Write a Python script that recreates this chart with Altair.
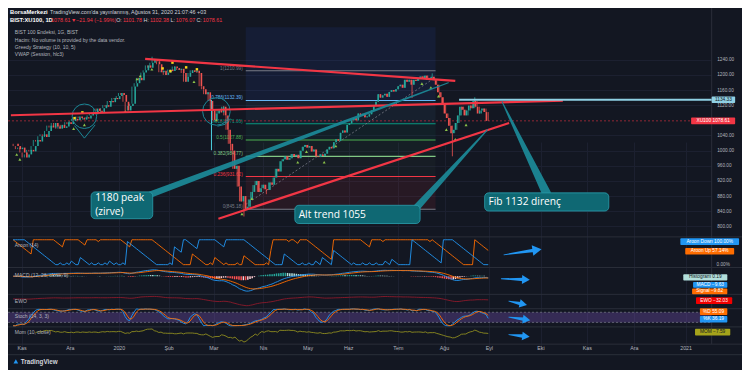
import math
import altair as alt
import numpy as np
import pandas as pd

# ---------------- data ----------------
first_index = -4          # trading-day index of the first candle (0 = 1 Nov 2019)
closes = [
    1012, 1004, 1008, 995, 982, 990, 1002, 998, 1012, 1028,
    1024, 1038, 1043, 1036, 1052, 1066, 1061, 1073, 1064, 1058,
    1068, 1060, 1064, 1075, 1070, 1078, 1084, 1080, 1090, 1086,
    1082, 1088, 1085, 1093, 1100, 1096, 1111, 1105, 1101, 1112,
    1120, 1116, 1131, 1128, 1139, 1136, 1144, 1152, 1147, 1129,
    1106, 1118, 1124, 1169, 1178, 1192, 1186, 1206, 1212, 1225,
    1219, 1232, 1242, 1236, 1228, 1207, 1211, 1200, 1206, 1214,
    1210, 1222, 1218, 1213, 1216, 1205, 1182, 1195, 1205, 1212,
    1208, 1211, 1205, 1170, 1162, 1149, 1154, 1131, 1106, 1081,
    1098, 1106, 1101, 1116, 1093, 1055, 1018, 1000, 952, 960,
    905, 866, 880, 846, 852, 871, 891, 909, 920, 891,
    901, 910, 898, 896, 916, 910, 929, 952, 945, 972,
    977, 985, 976, 980, 991, 985, 989, 980, 1000, 1010,
    1015, 1008, 1012, 998, 1003, 985, 983, 990, 986, 992,
    1003, 1010, 1006, 1022, 1030, 1026, 1047, 1053, 1048, 1068,
    1072, 1080, 1086, 1080, 1098, 1092, 1097, 1088, 1090, 1096,
    1106, 1118, 1129, 1149, 1140, 1146, 1150, 1142, 1155, 1160,
    1156, 1162, 1170, 1174, 1166, 1187, 1182, 1187, 1174, 1187,
    1184, 1192, 1196, 1190, 1198, 1187, 1192, 1195, 1186, 1174,
    1154, 1141, 1124, 1098, 1086, 1066, 1046, 1055, 1073, 1093,
    1116, 1108, 1093, 1106, 1119, 1112, 1131, 1116, 1098, 1106,
    1111, 1101.78, 1078.61,
]
first_open = 1018
low_spike_i = [99, 192, 174, 86, 46, 109]
low_spike_p = [826, 985, 1139, 1075, 1100, 885]
high_spike_i = [58, 202, 183, 90]
high_spike_p = [1248, 1141, 1204, 1118]

month_labels = ["Kas", "Ara", "2020", "Şub", "Mar", "Nis", "May", "Haz", "Tem",
                "Ağu", "Eyl", "Eki", "Kas", "Ara", "2021"]
month_index = [0, 21.5, 43.4, 65.6, 85.6, 107.7, 127.6, 145.7, 167.9,
               188.5, 208.5, 231.5, 252.2, 273.2, 296.3]
price_ticks = [800, 840, 880, 920, 960, 1000, 1040, 1120, 1160, 1200, 1240]

fib_ratio = ["0", "0.236", "0.382", "0.5", "0.618", "0.786", "1"]
fib_price = [845.18, 931.62, 984.77, 1027.88, 1071.06, 1132.39, 1210.99]
fib_color = ["#787b86", "#f23645", "#81c784", "#4caf50", "#089981", "#64b5f6", "#787b86"]
fib_start, fib_end = 99.8, 184.5

trend_id = [1, 1, 2, 2, 3, 3]
trend_i = [54.9, 193.3, -5.0, 241.3, 87.6, 217.3]
trend_p = [1242.5, 1184.4, 1093.4, 1132.0, 820.3, 1073.1]

resist_price = 1134.33
last_price = 1078.61

callout_i0 = [30.8, 121.7, 206.4]
callout_i1 = [58.3, 177.6, 261.8]
callout_p0 = [820.3, 807.6, 840.5]
callout_p1 = [891.1, 855.7, 888.5]
callout_text = ["1180 peak", "(zirve)", "Alt trend 1055", "Fib 1132 direnç"]
callout_text_i = [32.6, 32.6, 123.4, 208.1]
callout_text_p = [875.0, 838.0, 830.4, 863.3]
pointer_id = ["a", "a", "b", "b", "c", "c"]
pointer_i = [57.0, 190.2, 176.2, 207.7, 233.9, 214.2]
pointer_p = [883.5, 1179.3, 850.6, 1055.4, 888.5, 1128.7]
pointer_w = [6.5, 1.0, 7.0, 1.0, 9.0, 1.0]

buy_i = [-2.4, -1.0, 23.0, 27.8, 46.1, 51.3, 52.7, 57.9, 76.7, 86.7, 98.1, 102.5,
         123.0, 126.9, 134.8, 140.0, 178.4, 182.4, 185.8, 189.3, 193.3, 198.1]
buy_p = [989.7, 977, 1058, 1068, 1103.5, 1189, 1197, 1214.7, 1181.8, 1080.7, 833, 873.4,
         969.5, 997.3, 969.5, 1012.4, 1176.8, 1166.7, 1143.9, 1055.4, 1030, 1068]
sell_i = [23.4, 26.9, 62.7, 66.2, 67.1, 73.2, 78.0]
sell_p = [1085.8, 1101, 1217, 1209.7, 1232.4, 1219.8, 1214.7]

circle_i = [27.8, 86.7]
circle_p = [1090.8, 1103.5]
circle_size = [600, 760]
tail_id = [1, 1, 1, 2, 2, 2]
tail_i = [23.4, 27.8, 32.6, 87.2, 90.6, 92.8]
tail_p = [1066, 1033, 1068, 1064.5, 1069.6, 1084.8]

# ---------------- layout helpers ----------------
BG = "#131722"
UP, DN = "#26a69a", "#ef5350"
RED = "#f23645"
GRID = "#1c2030"
SEP = "#2a2e39"
TXT = "#b2b5be"
TEAL = "#1b8796"
FONT = "Liberation Sans"

SX, SY = 734 / 750, 362 / 378
W, H = 719 * SX, 362
X0, X1 = -6.29, 307.7


def fx(x):
    return x * SX


def fy(y):
    return y * SY


xs = alt.Scale(domain=[X0, X1], range=[0, W], nice=False, zero=False)


def ysc(dom, bottom, top):
    return alt.Scale(domain=list(dom), range=[fy(bottom), fy(top)], nice=False, zero=False)


MAIN = ysc([774.8, 1326.0], 238, 20)


def X(f="i"):
    return alt.X(f"{f}:Q", scale=xs, axis=None)


def Y(f, sc):
    return alt.Y(f"{f}:Q", scale=sc, axis=None)


PX = alt.Scale(domain=[0, 1000], range=[0, 1000])  # identity pixel scale for layout bits


def PXX(f):
    return alt.X(f"{f}:Q", scale=PX, axis=None)


def PXY(f):
    return alt.Y(f"{f}:Q", scale=PX, axis=None)


# ---------------- candles ----------------
n = len(closes)
idx = list(range(first_index, first_index + n))
opens = [first_open] + closes[:-1]
cdf = pd.DataFrame({"i": idx, "o": opens, "c": closes})
cdf["hi"] = cdf[["o", "c"]].max(axis=1)
cdf["lo"] = cdf[["o", "c"]].min(axis=1)
for a, b in zip(low_spike_i, low_spike_p):
    cdf.loc[cdf.i == a, "lo"] = b
for a, b in zip(high_spike_i, high_spike_p):
    cdf.loc[cdf.i == a, "hi"] = b
cdf["col"] = np.where(cdf.c >= cdf.o, UP, DN)

# ---------------- indicators computed from the candles ----------------
c, h, l = cdf["c"], cdf["hi"], cdf["lo"]
N = 14
aup = h.rolling(N + 1, min_periods=1).apply(lambda a: 100.0 * (N - np.argmax(a[::-1])) / N, raw=True)
adn = l.rolling(N + 1, min_periods=1).apply(lambda a: 100.0 * (N - np.argmin(a[::-1])) / N, raw=True)
macd = c.ewm(span=12, adjust=False).mean() - c.ewm(span=26, adjust=False).mean()
sig = macd.ewm(span=9, adjust=False).mean()
hist = macd - sig
prev = hist.shift(1).fillna(0)
hcol = np.where(hist >= 0, np.where(hist >= prev, "#26a69a", "#b2dfdb"),
                np.where(hist < prev, "#ff5252", "#ffcdd2"))
ewo = c.rolling(5, min_periods=1).mean() - c.rolling(35, min_periods=1).mean()
ll = l.rolling(14, min_periods=1).min()
hh = h.rolling(14, min_periods=1).max()
raw = (100 * (c - ll) / (hh - ll).replace(0, np.nan)).fillna(50)
kk = raw.rolling(3, min_periods=1).mean()
dd = kk.rolling(3, min_periods=1).mean()
mom = c - c.shift(10)

aroon_df = pd.concat([
    pd.DataFrame({"i": idx, "v": aup, "col": "#ff6d00", "s": "up"}),
    pd.DataFrame({"i": idx, "v": adn, "col": "#2196f3", "s": "dn"})])
macd_df = pd.concat([
    pd.DataFrame({"i": idx, "v": macd, "col": "#2196f3", "s": "m"}),
    pd.DataFrame({"i": idx, "v": sig, "col": "#ff6d00", "s": "s"})])
hist_df = pd.DataFrame({"i": idx, "v": hist, "col": hcol})
stoch_df = pd.concat([
    pd.DataFrame({"i": idx, "v": kk, "col": "#2196f3", "s": "k"}),
    pd.DataFrame({"i": idx, "v": dd, "col": "#ff6d00", "s": "d"})])
ewo_df = pd.DataFrame({"i": idx, "v": ewo})
mom_df = pd.DataFrame({"i": idx, "v": mom}).dropna()

mlo = min(macd.min(), sig.min(), hist.min())
mhi = max(macd.max(), sig.max(), hist.max())
MACD_S = ysc([mlo - 2, mhi + 2], 296, 273)
AROON_S = ysc([0, 100], 268, 242)
EWO_S = ysc([ewo.min() - 5, ewo.max() + 5], 311, 301)
STOCH_S = ysc([0, 100], 331.8, 314.2)
MOM_S = ysc([mom.min() - 5, mom.max() + 5], 349, 335)

layers = []

# ---------------- fibonacci background ----------------
band_lo = [fib_price[6], fib_price[5], fib_price[4], fib_price[3], fib_price[2], fib_price[1], fib_price[0]]
band_hi = [1326.0, fib_price[6], fib_price[5], fib_price[4], fib_price[3], fib_price[2], fib_price[1]]
band_col = ["#2962ff", "#2962ff", "#64b5f6", "#089981", "#4caf50", "#81c784", "#f23645"]
band_op = [0.09, 0.09, 0.06, 0.07, 0.06, 0.035, 0.09]
bdf = pd.DataFrame({"x0": fib_start, "x1": fib_end, "lo": band_lo, "hi": band_hi,
                    "col": band_col, "op": band_op})
layers.append(alt.Chart(bdf).mark_rect().encode(
    x=X("x0"), x2="x1:Q", y=Y("lo", MAIN), y2="hi:Q",
    color=alt.Color("col:N", scale=None), opacity=alt.Opacity("op:Q", scale=None)))

# stochastic band
sb = pd.DataFrame({"a": [80], "b": [20], "x0": [X0], "x1": [X1]})
layers.append(alt.Chart(sb).mark_rect(color="#7e57c2", opacity=0.32).encode(
    x=X("x0"), x2="x1:Q", y=Y("a", STOCH_S), y2="b:Q"))
layers.append(alt.Chart(pd.DataFrame({"v": [80, 20]})).mark_rule(
    color="#787b86", strokeDash=[2, 2], strokeWidth=0.7).encode(
    y=Y("v", STOCH_S), x=alt.value(0), x2=alt.value(W)))

# pane separators
seps = pd.DataFrame({"y": [fy(v) for v in [239, 271, 299, 314, 333, 351, 362]]})
layers.append(alt.Chart(seps).mark_rule(color=SEP, strokeWidth=1).encode(
    y=PXY("y"), x=alt.value(0), x2=alt.value(734)))
layers.append(alt.Chart(pd.DataFrame({"a": [0]})).mark_rule(color=SEP, strokeWidth=1).encode(
    x=alt.value(W), y=alt.value(0), y2=alt.value(fy(351))))

# fib lines + labels
fdf = pd.DataFrame({"r": fib_ratio, "p": fib_price, "col": fib_color})
fdf["x0"], fdf["x1"] = fib_start, fib_end
fdf["lab"] = [f"{r}({p:.2f})" for r, p in zip(fib_ratio, fib_price)]
layers.append(alt.Chart(fdf).mark_rule(strokeWidth=1.1).encode(
    x=X("x0"), x2="x1:Q", y=Y("p", MAIN), color=alt.Color("col:N", scale=None)))
layers.append(alt.Chart(fdf).mark_text(align="right", baseline="bottom", dx=-3, dy=0,
                                       fontSize=4.7, font=FONT).encode(
    x=X("x0"), y=Y("p", MAIN), text="lab:N", color=alt.Color("col:N", scale=None)))
layers.append(alt.Chart(pd.DataFrame({"i": [fib_start, 182.8], "p": [858, 1187]})).mark_line(
    color="#787b86", strokeDash=[2, 2], strokeWidth=0.8).encode(x=X(), y=Y("p", MAIN)))
layers.append(alt.Chart(pd.DataFrame({"i": [84.5], "a": [1134], "b": [1001]})).mark_rule(
    color="#4dd0e1", strokeWidth=1).encode(x=X(), y=Y("a", MAIN), y2="b:Q"))

# last price dashed line
layers.append(alt.Chart(pd.DataFrame({"p": [last_price]})).mark_rule(
    color=RED, strokeDash=[2, 2], strokeWidth=0.8, opacity=0.7).encode(
    y=Y("p", MAIN), x=alt.value(0), x2=alt.value(W)))

# candles (this layer carries the grid and the price axis)
layers.append(alt.Chart(cdf).mark_rule(strokeWidth=0.8).encode(
    x=alt.X("i:Q", scale=xs, axis=alt.Axis(values=month_index, grid=True, gridColor=GRID,
                                           labels=False, ticks=False, domain=False, title=None)),
    y=alt.Y("lo:Q", scale=MAIN, axis=alt.Axis(orient="right", values=price_ticks, format=".2f",
                                              grid=True, gridColor=GRID, labelColor=TXT,
                                              labelFontSize=4.7, labelFont=FONT, ticks=False,
                                              domain=False, title=None, labelPadding=5)),
    y2="hi:Q", color=alt.Color("col:N", scale=None)))
layers.append(alt.Chart(cdf).mark_bar(size=1.6).encode(
    x=X(), y=Y("o", MAIN), y2="c:Q", color=alt.Color("col:N", scale=None)))

# strategy markers
layers.append(alt.Chart(pd.DataFrame({"i": buy_i, "p": buy_p})).mark_point(
    shape="triangle-up", filled=True, color="#8bc34a", size=9, opacity=1).encode(x=X(), y=Y("p", MAIN)))
layers.append(alt.Chart(pd.DataFrame({"i": sell_i, "p": sell_p})).mark_point(
    shape="square", filled=True, color="#f9d71c", size=6, opacity=1).encode(x=X(), y=Y("p", MAIN)))

# hand drawn circles
layers.append(alt.Chart(pd.DataFrame({"i": circle_i, "p": circle_p, "s": circle_size})).mark_point(
    shape="circle", filled=False, color=TEAL, strokeWidth=1, opacity=1).encode(
    x=X(), y=Y("p", MAIN), size=alt.Size("s:Q", scale=None)))
layers.append(alt.Chart(pd.DataFrame({"g": tail_id, "i": tail_i, "p": tail_p})).mark_line(
    color=TEAL, strokeWidth=1).encode(x=X(), y=Y("p", MAIN), detail="g:N"))

# trend lines
layers.append(alt.Chart(pd.DataFrame({"g": trend_id, "i": trend_i, "p": trend_p})).mark_line(
    color=RED, strokeWidth=2.2).encode(x=X(), y=Y("p", MAIN), detail="g:N"))
layers.append(alt.Chart(pd.DataFrame({"a": [195.0], "b": [X1], "p": [resist_price]})).mark_rule(
    color="#8fd0e4", strokeWidth=2).encode(x=X("a"), x2="b:Q", y=Y("p", MAIN)))

# callout pointers, boxes, texts
layers.append(alt.Chart(pd.DataFrame({"g": pointer_id, "i": pointer_i, "p": pointer_p, "w": pointer_w})
                        ).mark_trail(color=TEAL, opacity=0.95).encode(
    x=X(), y=Y("p", MAIN), size=alt.Size("w:Q", scale=None), detail="g:N"))
layers.append(alt.Chart(pd.DataFrame({"a": callout_i0, "b": callout_i1, "lo": callout_p0, "hi": callout_p1})
                        ).mark_rect(fill="#0f6873", stroke="#2b9fae", strokeWidth=0.8, cornerRadius=4).encode(
    x=X("a"), x2="b:Q", y=Y("lo", MAIN), y2="hi:Q"))
layers.append(alt.Chart(pd.DataFrame({"i": callout_text_i, "p": callout_text_p, "t": callout_text})
                        ).mark_text(align="left", baseline="middle", color="#ffffff",
                                    fontSize=10.2, font="Open Sans").encode(
    x=X(), y=Y("p", MAIN), text="t:N"))

# indicator panes
layers.append(alt.Chart(aroon_df).mark_line(strokeWidth=0.9).encode(
    x=X(), y=Y("v", AROON_S), color=alt.Color("col:N", scale=None), detail="s:N"))
layers.append(alt.Chart(hist_df).mark_bar(size=1.5).encode(
    x=X(), y=Y("v", MACD_S), y2=alt.datum(0), color=alt.Color("col:N", scale=None)))
layers.append(alt.Chart(macd_df).mark_line(strokeWidth=0.9).encode(
    x=X(), y=Y("v", MACD_S), color=alt.Color("col:N", scale=None), detail="s:N"))
layers.append(alt.Chart(ewo_df).mark_line(strokeWidth=0.9, color="#8b1a2a").encode(
    x=X(), y=Y("v", EWO_S)))
layers.append(alt.Chart(stoch_df).mark_line(strokeWidth=0.9).encode(
    x=X(), y=Y("v", STOCH_S), color=alt.Color("col:N", scale=None), detail="s:N"))
layers.append(alt.Chart(mom_df).mark_line(strokeWidth=0.9, color="#8f8c1f").encode(
    x=X(), y=Y("v", MOM_S)))

# blue arrows (reference pixel positions)
arrow_tail = [(506.7, 257.7), (504, 282.7), (511.7, 306), (511.7, 322.7), (511.7, 341)]
arrow_tip = [(544, 252), (532.7, 283.7), (530, 310), (533.3, 326), (532.7, 343.3)]
arrow_head = [110, 80, 75, 75, 75]
sh_rows, hd_rows = [], []
for k, ((tx, ty), (px_, py_), hs) in enumerate(zip(arrow_tail, arrow_tip, arrow_head)):
    dx, dy = px_ - tx, py_ - ty
    L = math.hypot(dx, dy)
    ux, uy = dx / L, dy / L
    sh_rows.append({"g": k, "x": fx(tx), "y": fy(ty), "w": 0.8})
    sh_rows.append({"g": k, "x": fx(px_ - ux * 6), "y": fy(py_ - uy * 6), "w": 3.6})
    hd_rows.append({"x": fx(px_ - ux * 3.5), "y": fy(py_ - uy * 3.5), "s": hs,
                    "ang": (math.degrees(math.atan2(dy, dx)) + 360) % 360})
layers.append(alt.Chart(pd.DataFrame(sh_rows)).mark_trail(color="#2196f3").encode(
    x=PXX("x"), y=PXY("y"), size=alt.Size("w:Q", scale=None), detail="g:N"))
layers.append(alt.Chart(pd.DataFrame(hd_rows)).mark_point(
    shape="triangle-right", filled=True, color="#2196f3", opacity=1).encode(
    x=PXX("x"), y=PXY("y"), size=alt.Size("s:Q", scale=None), angle=alt.Angle("ang:Q", scale=None)))

# right-hand value labels
rb = [
    ("Aroon Down  100.00%", 687, 747, 240.5, 247.5, "#2196f3", "#ffffff"),
    ("Aroon Up  57.14%", 692, 742, 250.5, 257.5, "#ff6d00", "#ffffff"),
    ("Histogram  0.19", 690, 735, 278, 284.5, "#b2dfdb", "#131722"),
    ("MACD  −9.63", 700, 735, 286, 292, "#2196f3", "#ffffff"),
    ("Signal  −9.82", 699, 735, 293, 299, "#ff6d00", "#ffffff"),
    ("EWO  −32.03", 703, 740, 302, 309, "#f20000", "#ffffff"),
    ("%D  55.09", 707, 735, 313.5, 320.5, "#ff6d00", "#ffffff"),
    ("%K  36.19", 707, 735, 321.5, 328.5, "#2196f3", "#ffffff"),
    ("MOM  −7.59", 702, 738, 335, 342, "#a5a31b", "#131722"),
    ("1134.33", 719, 743, 92.3, 99.3, "#8fd0e4", "#131722"),
    ("XU100    1078.61", 698, 743, 114.3, 121.3, RED, "#ffffff"),
]
rdf = pd.DataFrame([{"t": t, "x0": fx(a), "x1": fx(b), "y0": fy(c0), "y1": fy(d),
                     "xm": fx((a + b) / 2), "ym": fy((c0 + d) / 2), "bg": bg, "fg": fg}
                    for t, a, b, c0, d, bg, fg in rb])
layers.append(alt.Chart(rdf).mark_rect(cornerRadius=1).encode(
    x=PXX("x0"), x2="x1:Q", y=PXY("y0"), y2="y1:Q", color=alt.Color("bg:N", scale=None)))
layers.append(alt.Chart(rdf).mark_text(fontSize=4.8, font=FONT, baseline="middle").encode(
    x=PXX("xm"), y=PXY("ym"), text="t:N", color=alt.Color("fg:N", scale=None)))
layers.append(alt.Chart(pd.DataFrame({"x": [fx(724)], "y": [fy(268)], "t": ["0.00%"]})).mark_text(
    align="left", baseline="middle", fontSize=4.7, font=FONT, color=TXT).encode(
    x=PXX("x"), y=PXY("y"), text="t:N"))

# month labels
layers.append(alt.Chart(pd.DataFrame({"i": month_index, "t": month_labels})).mark_text(
    baseline="middle", fontSize=5.3, font=FONT, color=TXT).encode(
    x=X(), y=alt.value(fy(355.5)), text="t:N"))

# pane titles + legend
ttl = [("BIST 100 Endeksi, 1G, BIST", 7, 25), ("Hacim: No volume is provided by the data vendor.", 7, 33),
       ("Greedy Strategy (10, 10, 5)", 7, 40.5), ("VWAP (Session, hlc3)", 7, 48),
       ("Aroon (14)", 7, 247), ("MACD (12, 26, close, 9)", 7, 278.7), ("EWO", 7, 306),
       ("Stoch (14, 3, 3)", 7, 322), ("Mom (10, close)", 7, 338.7)]
layers.append(alt.Chart(pd.DataFrame([{"t": t, "x": fx(a), "y": fy(b)} for t, a, b in ttl])).mark_text(
    align="left", baseline="middle", fontSize=5, font=FONT, color=TXT).encode(
    x=PXX("x"), y=PXY("y"), text="t:N"))

# header
hdr = [("BorsaMerkezi", 2, 4.5, "#ffffff", "bold"),
       ("TradingView.com'da yayınlanmış, Ağustos 31, 2020 21:07:46 +03", 43, 4.5, "#d1d4dc", "normal"),
       ("BIST:XU100, 1D", 2, 12.5, "#ffffff", "bold"),
       ("1078.61", 44, 12.5, RED, "normal"), ("▼", 64.5, 12.5, RED, "normal"),
       ("−21.94 (−1.99%)", 69.5, 12.5, RED, "normal"),
       ("O:", 110.5, 12.5, "#d1d4dc", "normal"), ("1101.78", 117.5, 12.5, RED, "normal"),
       ("H:", 138.5, 12.5, "#d1d4dc", "normal"), ("1102.38", 145, 12.5, RED, "normal"),
       ("L:", 166, 12.5, "#d1d4dc", "normal"), ("1076.07", 171.5, 12.5, RED, "normal"),
       ("C:", 192.5, 12.5, "#d1d4dc", "normal"), ("1078.61", 199, 12.5, RED, "normal")]
hdf = pd.DataFrame([{"t": t, "x": fx(a), "y": fy(b), "col": col, "w": w} for t, a, b, col, w in hdr])
for wgt, size in [("bold", 5.8), ("normal", 5.4)]:
    sub = hdf[hdf.w == wgt]
    layers.append(alt.Chart(sub).mark_text(align="left", baseline="middle", fontSize=size,
                                           font=FONT, fontWeight=wgt).encode(
        x=PXX("x"), y=PXY("y"), text="t:N", color=alt.Color("col:N", scale=None)))

# footer
layers.append(alt.Chart(pd.DataFrame({"x": [fx(8)], "y": [fy(369)]})).mark_point(
    shape="triangle-up", filled=True, color="#2196f3", size=22, opacity=1).encode(x=PXX("x"), y=PXY("y")))
layers.append(alt.Chart(pd.DataFrame({"x": [fx(13)], "y": [fy(369.5)], "t": ["TradingView"]})).mark_text(
    align="left", baseline="middle", fontSize=6.3, font=FONT, fontWeight="bold", color="#d1d4dc").encode(
    x=PXX("x"), y=PXY("y"), text="t:N"))

chart = alt.layer(*layers).resolve_scale(
    x="independent", y="independent", color="independent", size="independent", opacity="independent"
).properties(
    width=W, height=H, background=BG,
    padding={"left": 0, "top": 0, "right": 734 - W, "bottom": 0},
    autosize=alt.AutoSizeParams(type="none"),
).configure_view(strokeWidth=0)

chart.save("out.html", embed_options={"renderer": "svg", "actions": False})
